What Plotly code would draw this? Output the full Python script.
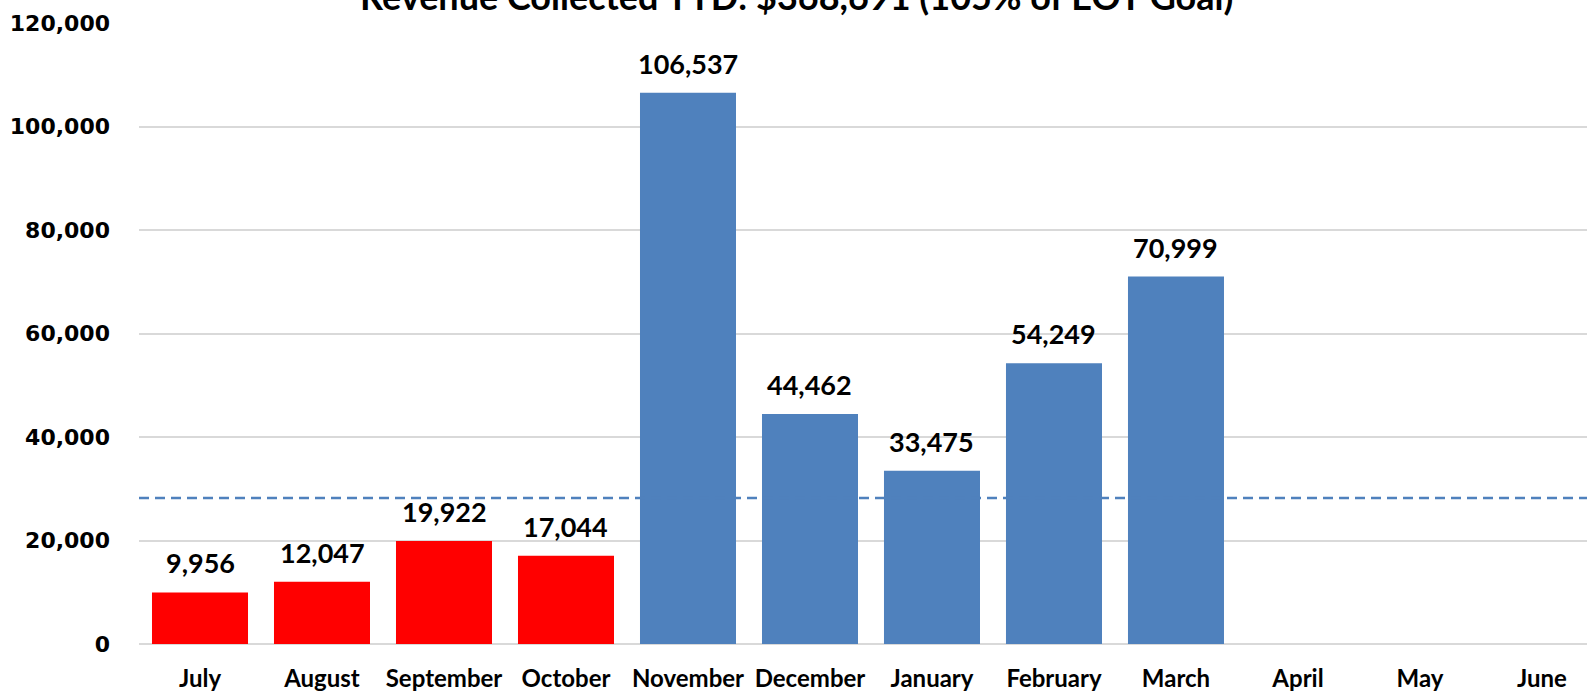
import plotly.graph_objects as go

months = ["July", "August", "September", "October", "November", "December",
          "January", "February", "March", "April", "May", "June"]
revenue = [9956, 12047, 19922, 17044, 106537, 44462, 33475, 54249, 70999, None, None, None]
monthly_goal = 28200
title_text = "Revenue Collected YTD: $368,691 (105% of EOY Goal)"
y_ticks = [0, 20000, 40000, 60000, 80000, 100000, 120000]

RED = "#FF0000"
BLUE = "#4F81BD"
colors = [(RED if (v is not None and v < monthly_goal) else BLUE) for v in revenue]

fig = go.Figure()
fig.add_trace(go.Bar(
    x=months, y=revenue, marker=dict(color=colors, line=dict(width=0)),
    hoverinfo="x+y", showlegend=False,
))

for m, v in zip(months, revenue):
    if v is None:
        continue
    fig.add_annotation(x=m, y=v, text=f"{v:,}", showarrow=False,
                       yanchor="bottom", yshift=11,
                       font=dict(family="Lato", size=27, color="#000000", weight="bold"))

fig.add_shape(type="line", xref="paper", x0=0, x1=1, yref="y", y0=monthly_goal, y1=monthly_goal,
              line=dict(color=BLUE, width=2.6, dash="10px,6px"))

fig.add_annotation(xref="paper", yref="paper", x=0.4544, y=1, yanchor="bottom", yshift=3,
                   text=title_text, showarrow=False,
                   font=dict(family="Lato", size=36, color="#000000", weight="bold"))

fig.update_layout(
    width=1587, height=696,
    margin=dict(l=139, r=0, t=23, b=52),
    paper_bgcolor="white", plot_bgcolor="white",
    bargap=0.213,
    xaxis=dict(type="category", range=[-0.5, 11.369], showgrid=False, showline=False,
               ticks="", ticklabelstandoff=18,
               tickfont=dict(family="Lato", size=24, color="#000000", weight="bold")),
    yaxis=dict(range=[0, 120000], tickvals=y_ticks, tickformat=",", showgrid=True,
               gridcolor="#D9D9D9", gridwidth=1.5, zeroline=True, zerolinecolor="#D9D9D9",
               zerolinewidth=1.5, showline=False, ticks="", ticklabelstandoff=28,
               tickfont=dict(family="DejaVu Sans", size=22, color="#000000", weight="bold")),
)

fig.write_html("out.html", config={"displayModeBar": False},
               post_script="document.body.style.margin='0';document.body.style.overflow='hidden';")
